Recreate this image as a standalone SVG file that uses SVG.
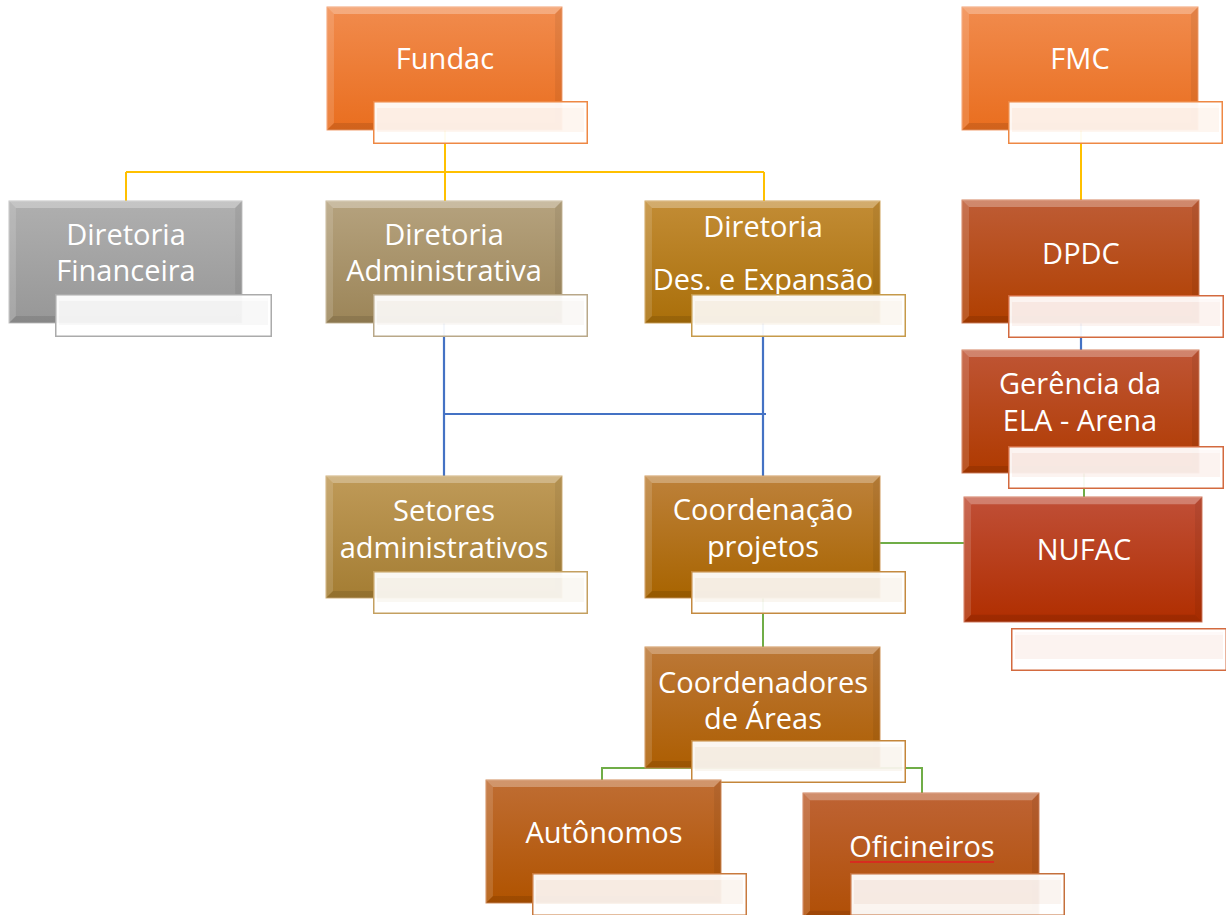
<svg xmlns="http://www.w3.org/2000/svg" width="1226" height="915" viewBox="0 0 1226 915">
<style>
  .lbl{font-family:"Open Sans","Noto Sans","Liberation Sans",sans-serif;font-size:29px;fill:#ffffff;text-anchor:middle}
  .yel{stroke:#FFC000;stroke-width:2;fill:none}
  .blu{stroke:#4472C4;stroke-width:2.2;fill:none}
  .grn{stroke:#70AD47;stroke-width:2;fill:none}
  .box{stroke-width:1}
</style>
<defs>
  <linearGradient id="gFundac" x1="0" y1="0" x2="0" y2="1"><stop offset="0" stop-color="#F18B4D"/><stop offset="1" stop-color="#E96E1F"/></linearGradient>
  <linearGradient id="gGray" x1="0" y1="0" x2="0" y2="1"><stop offset="0" stop-color="#AFAFAF"/><stop offset="1" stop-color="#979797"/></linearGradient>
  <linearGradient id="gTan" x1="0" y1="0" x2="0" y2="1"><stop offset="0" stop-color="#B5A27E"/><stop offset="1" stop-color="#9C8558"/></linearGradient>
  <linearGradient id="gDes" x1="0" y1="0" x2="0" y2="1"><stop offset="0" stop-color="#C28C35"/><stop offset="1" stop-color="#AA6F0A"/></linearGradient>
  <linearGradient id="gSet" x1="0" y1="0" x2="0" y2="1"><stop offset="0" stop-color="#BF9A58"/><stop offset="1" stop-color="#A47D33"/></linearGradient>
  <linearGradient id="gCP" x1="0" y1="0" x2="0" y2="1"><stop offset="0" stop-color="#BD813A"/><stop offset="1" stop-color="#A86400"/></linearGradient>
  <linearGradient id="gCA" x1="0" y1="0" x2="0" y2="1"><stop offset="0" stop-color="#BC7837"/><stop offset="1" stop-color="#AD5E02"/></linearGradient>
  <linearGradient id="gAut" x1="0" y1="0" x2="0" y2="1"><stop offset="0" stop-color="#BF6D33"/><stop offset="1" stop-color="#B05300"/></linearGradient>
  <linearGradient id="gOf" x1="0" y1="0" x2="0" y2="1"><stop offset="0" stop-color="#BE6334"/><stop offset="1" stop-color="#B04F06"/></linearGradient>
  <linearGradient id="gDP" x1="0" y1="0" x2="0" y2="1"><stop offset="0" stop-color="#BE5C35"/><stop offset="1" stop-color="#B03F00"/></linearGradient>
  <linearGradient id="gGer" x1="0" y1="0" x2="0" y2="1"><stop offset="0" stop-color="#BF5535"/><stop offset="1" stop-color="#AF3A00"/></linearGradient>
  <linearGradient id="gNu" x1="0" y1="0" x2="0" y2="1"><stop offset="0" stop-color="#C04F37"/><stop offset="1" stop-color="#B02E00"/></linearGradient>
  <symbol id="bevel" viewBox="0 0 236 122" preserveAspectRatio="none">
    <polygon points="0,0 236,0 229,7 7,7" fill="#ffffff" fill-opacity="0.28"/>
    <polygon points="0,0 7,7 7,115 0,122" fill="#ffffff" fill-opacity="0.14"/>
    <polygon points="236,0 236,122 229,115 229,7" fill="#000000" fill-opacity="0.06"/>
    <polygon points="0,122 236,122 229,115 7,115" fill="#000000" fill-opacity="0.1"/>
  </symbol>
  <symbol id="sub" viewBox="0 0 215 43" preserveAspectRatio="none">
    <rect x="0.75" y="0.75" width="213.5" height="41.5" fill="#ffffff" fill-opacity="0.94" stroke="currentColor" stroke-width="1.5"/>
    <rect x="4" y="4" width="207" height="27" fill="currentColor" fill-opacity="0.08"/>
    <rect x="4" y="4" width="207" height="3" fill="#ffffff" fill-opacity="0.5"/>
  </symbol>
  <pattern id="wavy" x="0" y="0" width="4" height="4" patternUnits="userSpaceOnUse">
    <polyline points="0,3 1,1 2,3 3,1 4,3" fill="none" stroke="#E02020" stroke-width="1"/>
  </pattern>
</defs>

<g id="connectors">
  <path class="yel" d="M445,130 V201 M126,172 H764 M126,172 V201 M764,172 V201"/>
  <path class="yel" d="M1081,130 V200"/>
  <path class="blu" d="M444,323 V476 M763,323 V476 M444,414 H766"/>
  <path class="blu" d="M1081,323 V350"/>
  <path class="grn" d="M1084,473 V497"/>
  <path class="grn" d="M873,543 H964"/>
  <path class="grn" d="M763,598 V647"/>
  <path class="grn" d="M602,780 V768 H922 V793"/>
</g>

<g id="fundac">
  <rect class="box" x="327" y="7" width="235" height="123" fill="url(#gFundac)" stroke="#F4A070"/>
  <use href="#bevel" x="327" y="7" width="235" height="123"/>
  <text class="lbl" x="445" y="69">Fundac</text>
  <use href="#sub" x="373" y="101" width="215" height="43" style="color:#EE8844"/>
</g>

<g id="fmc">
  <rect class="box" x="962" y="7" width="236" height="123" fill="url(#gFundac)" stroke="#F4A070"/>
  <use href="#bevel" x="962" y="7" width="236" height="123"/>
  <text class="lbl" x="1080" y="69">FMC</text>
  <use href="#sub" x="1008" y="101" width="215" height="43" style="color:#EE8844"/>
</g>

<g id="diretoria-financeira">
  <rect class="box" x="9" y="201" width="233" height="122" fill="url(#gGray)" stroke="#C4C4C4"/>
  <use href="#bevel" x="9" y="201" width="233" height="122"/>
  <text class="lbl" x="126" y="245">Diretoria</text>
  <text class="lbl" x="126" y="281">Financeira</text>
  <use href="#sub" x="55" y="294" width="217" height="43" style="color:#ABABAB"/>
</g>

<g id="diretoria-administrativa">
  <rect class="box" x="326" y="201" width="236" height="122" fill="url(#gTan)" stroke="#C8B899"/>
  <use href="#bevel" x="326" y="201" width="236" height="122"/>
  <text class="lbl" x="444" y="245">Diretoria</text>
  <text class="lbl" x="444" y="281">Administrativa</text>
  <use href="#sub" x="373" y="294" width="215" height="43" style="color:#B9A889"/>
</g>

<g id="diretoria-des-expansao">
  <rect class="box" x="645" y="201" width="235" height="122" fill="url(#gDes)" stroke="#D0A45C"/>
  <use href="#bevel" x="645" y="201" width="235" height="122"/>
  <text class="lbl" x="763" y="237">Diretoria</text>
  <text class="lbl" x="763" y="290">Des. e Expansão</text>
  <use href="#sub" x="691" y="294" width="215" height="43" style="color:#C69A4A"/>
</g>

<g id="dpdc">
  <rect class="box" x="962" y="200" width="237" height="123" fill="url(#gDP)" stroke="#D4825E"/>
  <use href="#bevel" x="962" y="200" width="237" height="123"/>
  <text class="lbl" x="1081" y="264">DPDC</text>
  <use href="#sub" x="1008" y="295" width="216" height="43" style="color:#D36A3F"/>
</g>

<g id="gerencia-ela-arena">
  <rect class="box" x="962" y="350" width="237" height="123" fill="url(#gGer)" stroke="#D4805E"/>
  <use href="#bevel" x="962" y="350" width="237" height="123"/>
  <text class="lbl" x="1080" y="394">Gerência da</text>
  <text class="lbl" x="1080" y="431">ELA - Arena</text>
  <use href="#sub" x="1008" y="446" width="216" height="43" style="color:#D36A3F"/>
</g>

<g id="setores-administrativos">
  <rect class="box" x="326" y="476" width="236" height="122" fill="url(#gSet)" stroke="#D0B07A"/>
  <use href="#bevel" x="326" y="476" width="236" height="122"/>
  <text class="lbl" x="444" y="521">Setores</text>
  <text class="lbl" x="444" y="558">administrativos</text>
  <use href="#sub" x="373" y="571" width="215" height="43" style="color:#C4A060"/>
</g>

<g id="coordenacao-projetos">
  <rect class="box" x="645" y="476" width="235" height="122" fill="url(#gCP)" stroke="#D09A5C"/>
  <use href="#bevel" x="645" y="476" width="235" height="122"/>
  <text class="lbl" x="763" y="520">Coordenação</text>
  <text class="lbl" x="763" y="557">projetos</text>
  <use href="#sub" x="691" y="571" width="215" height="43" style="color:#C48A40"/>
</g>

<g id="nufac">
  <rect class="box" x="964" y="497" width="238" height="125" fill="url(#gNu)" stroke="#D47A5E"/>
  <use href="#bevel" x="964" y="497" width="238" height="125"/>
  <text class="lbl" x="1084" y="560">NUFAC</text>
  <use href="#sub" x="1011" y="628" width="216" height="43" style="color:#D36A3F"/>
</g>

<g id="coordenadores-areas">
  <rect class="box" x="645" y="647" width="235" height="121" fill="url(#gCA)" stroke="#D09458"/>
  <use href="#bevel" x="645" y="647" width="235" height="121"/>
  <text class="lbl" x="763" y="693">Coordenadores</text>
  <text class="lbl" x="763" y="729">de Áreas</text>
  <use href="#sub" x="691" y="740" width="215" height="43" style="color:#C4863A"/>
</g>

<g id="autonomos">
  <rect class="box" x="486" y="780" width="235" height="123" fill="url(#gAut)" stroke="#D08A58"/>
  <use href="#bevel" x="486" y="780" width="235" height="123"/>
  <text class="lbl" x="604" y="843">Autônomos</text>
  <use href="#sub" x="532" y="873" width="215" height="43" style="color:#C97A3E"/>
</g>

<g id="oficineiros">
  <rect class="box" x="803" y="793" width="236" height="125" fill="url(#gOf)" stroke="#D08058"/>
  <use href="#bevel" x="803" y="793" width="236" height="125"/>
  <text class="lbl" x="922" y="857">Oficineiros</text>
  <rect x="850" y="861" width="144" height="4" fill="url(#wavy)"/>
  <use href="#sub" x="850" y="873" width="215" height="43" style="color:#C5703C"/>
</g>
</svg>
